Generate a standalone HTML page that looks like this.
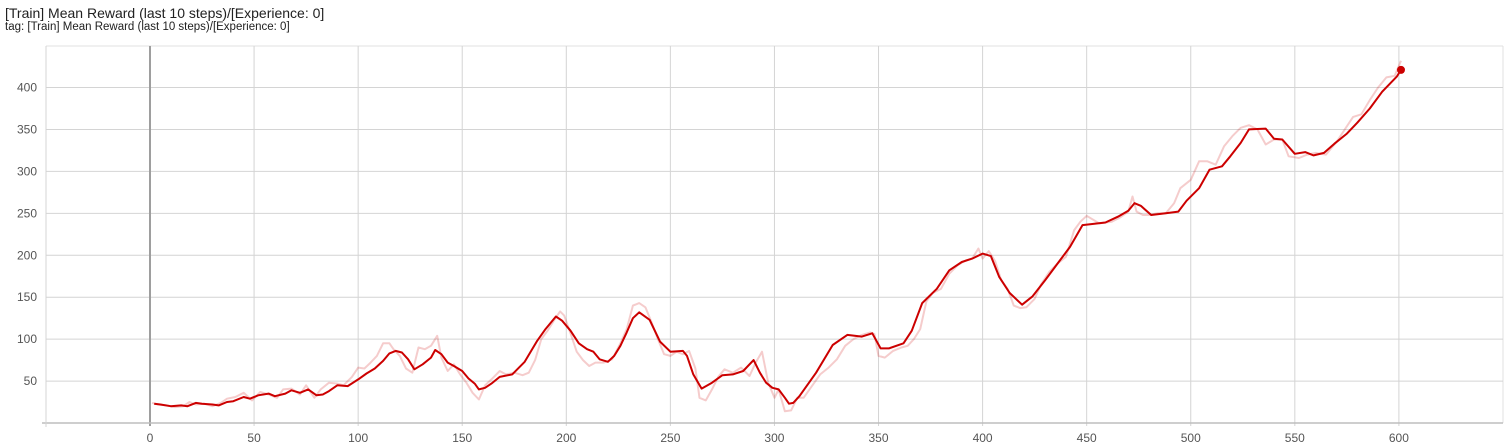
<!DOCTYPE html>
<html><head><meta charset="utf-8"><style>
body{margin:0;background:#fff;width:1510px;height:445px;overflow:hidden;font-family:"Liberation Sans",sans-serif}
#t1{position:absolute;left:5px;top:5px;font-size:14px;color:#212121}
#t2{position:absolute;left:5px;top:21px;font-size:11.5px;color:#212121}
svg{position:absolute;left:0;top:0}
</style></head><body>
<div id="t1">[Train] Mean Reward (last 10 steps)/[Experience: 0]</div>
<div id="t2">tag: [Train] Mean Reward (last 10 steps)/[Experience: 0]</div>
<svg id="chart" width="1510" height="445"></svg>
<script>
const xTicks=[0,50,100,150,200,250,300,350,400,450,500,550,600];
const yTicks=[50,100,150,200,250,300,350,400];
const smoothSteps=[2,5,10,15,18,22,25,30,33,37,40,45,48,52,57,60,65,68,72,76,80,83,86,90,95,100,104,108,112,115,118,121,124,127,131,135,137,140,143,146,150,153,156,158,161,164,168,174,180,186,190,195,198,202,206,210,213,216,220,223,226,229,232,235,240,245,250,256,258,261,265,270,275,280,285,290,293,296,299,302,305,307,309,312,320,328,335,342,347,351,355,362,366,371,378,384,390,395,400,404,408,413,419,424,430,436,442,448,459,465,470,473,476,481,488,494,498,504,509,515,519,524,528,536,540,544,550,555,559,564,569,575,580,586,592,599,601];
const smoothValues=[23,22,20,21,20,24,23,22,21,25,26,31,29,33,35,32,35,39,36,40,33,34,38,45,44,52,59,65,74,83,86,84,76,64,70,78,87,82,72,68,62,53,47,40,42,47,55,58,73,98,112,127,122,110,95,88,85,76,73,80,92,108,125,132,123,97,85,86,80,58,41,48,57,58,62,75,60,48,42,40,30,23,24,32,60,93,105,103,107,89,89,95,110,143,160,182,192,196,202,199,174,155,141,151,170,190,210,236,239,246,253,262,259,248,250,252,265,280,302,306,318,334,350,351,339,338,321,323,319,322,333,345,358,375,395,413,421];
const rawSteps=[1,4,8,12,16,19,22,26,30,34,37,41,45,49,53,57,61,64,68,72,75,79,82,86,90,93,97,100,103,106,109,112,115,117,120,123,126,129,132,135,138,140,143,146,149,152,155,158,161,164,168,171,175,179,182,185,188,191,194,197,199,202,205,208,211,214,218,222,226,229,232,235,238,241,244,247,250,253,256,259,262,264,267,270,273,276,280,284,288,291,294,297,300,302,305,308,311,314,318,322,326,330,334,338,342,346,348,350,353,357,361,364,367,370,373,376,380,384,388,392,395,398,400,403,406,409,412,415,418,421,425,428,432,436,440,444,447,450,456,462,466,470,472,474,477,480,484,488,492,495,500,504,508,512,516,520,524,528,532,536,540,544,547,552,556,560,565,570,574,578,582,586,590,594,598,601];
const rawValues=[24,22,21,19,20,25,22,23,20,24,29,31,36,27,37,34,30,40,41,34,45,30,40,48,47,45,55,66,65,72,80,95,95,88,80,65,60,90,88,92,104,78,62,70,58,48,36,28,45,52,62,58,60,57,60,75,100,110,122,133,128,107,85,75,68,72,72,76,95,112,140,143,138,120,100,82,80,85,82,86,65,30,27,40,55,64,60,66,56,72,85,48,30,40,14,15,30,30,44,58,66,76,92,100,105,108,106,80,78,86,90,92,100,112,145,155,160,178,188,194,196,208,196,205,193,170,160,140,137,138,148,165,180,190,198,230,240,247,238,240,245,252,270,252,248,248,250,250,262,280,290,312,312,308,330,342,352,355,350,332,338,338,318,316,320,322,320,335,350,365,368,385,400,412,414,432];
const L=46,R=1503,T=46,B=423;
const xS=v=>150+v*(1398.9-150)/600;
const yS=v=>423-v*(423-87.5)/400;
const svg=document.getElementById('chart');
const NS='http://www.w3.org/2000/svg';
function mk(tag,at){const e=document.createElementNS(NS,tag);for(const k in at)e.setAttribute(k,at[k]);svg.appendChild(e);return e;}
let g;
g=mk('line',{x1:L,y1:T,x2:R,y2:T,stroke:'#e0e0e0','stroke-width':1});


g=mk('line',{x1:R,y1:T,x2:R,y2:B,stroke:'#e0e0e0','stroke-width':1});


yTicks.forEach(v=>{
 const l=mk('line',{x1:L,y1:yS(v),x2:R,y2:yS(v),stroke:'#d4d4d4','stroke-width':1});
 
 
 const t=mk('text',{x:37,y:yS(v)+4,'text-anchor':'end','font-size':12,fill:'#555','font-family':'Liberation Sans, sans-serif'});
 t.textContent=v;
 
 
});
xTicks.forEach(v=>{
 const l=mk('line',{x1:xS(v),y1:T,x2:xS(v),y2:B+3,stroke:v===0?'#9e9e9e':'#d4d4d4','stroke-width':v===0?2:1});
 
 
 const t=mk('text',{x:xS(v),y:442,'text-anchor':'middle','font-size':12,fill:'#555','font-family':'Liberation Sans, sans-serif'});
 t.textContent=v;
 
 
});
g=mk('line',{x1:L-4,y1:B,x2:R,y2:B,stroke:'#bdbdbd','stroke-width':1.5});


g=mk('line',{x1:L,y1:T,x2:L,y2:B+4,stroke:'#d4d4d4','stroke-width':1});


const pth=(xs,ys)=>xs.map((x,i)=>(i?'L':'M')+xS(x).toFixed(1)+','+yS(ys[i]).toFixed(1)).join('');
const raw=mk('path',{d:pth(rawSteps,rawValues),fill:'none',stroke:'#cc0000','stroke-opacity':0.2,'stroke-width':2,'stroke-linejoin':'round'});


const sm=mk('path',{d:pth(smoothSteps,smoothValues),fill:'none',stroke:'#cc0000','stroke-width':2,'stroke-linejoin':'round'});


const n=smoothSteps.length-1;
const dot=mk('circle',{cx:xS(smoothSteps[n]),cy:yS(smoothValues[n]),r:4,fill:'#cc0000'});


</script>
</body></html>
